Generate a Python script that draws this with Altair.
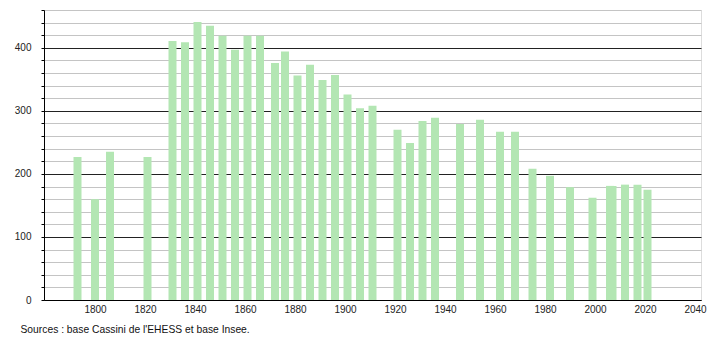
import altair as alt
import pandas as pd

years = [1793, 1800, 1806, 1821, 1831, 1836, 1841, 1846, 1851, 1856, 1861, 1866,
         1872, 1876, 1881, 1886, 1891, 1896, 1901, 1906, 1911, 1921, 1926, 1931,
         1936, 1946, 1954, 1962, 1968, 1975, 1982, 1990, 1999, 2006, 2007, 2012,
         2017, 2021]
population = [227, 160, 235, 227, 411, 409, 441, 435, 419, 397, 419, 419,
              376, 394, 356, 373, 349, 357, 326, 304, 308, 270, 249, 284,
              289, 279, 286, 267, 267, 208, 197, 179, 162, 181, 181, 183,
              183, 175]
x_ticks = [1800, 1820, 1840, 1860, 1880, 1900, 1920, 1940, 1960, 1980, 2000, 2020, 2040]
y_ticks = list(range(0, 461, 20))
source_text = "Sources : base Cassini de l'EHESS et base Insee."

df = pd.DataFrame({"year": years, "pop": population})

W, H = 657, 290
FONT = "Liberation Sans"

bars = alt.Chart(df).transform_calculate(
    year_start="datum.year - 1.6",
    year_end="datum.year + 1.6",
).mark_rect(color="#b3e6b3").encode(
    x=alt.X("year_start:Q", scale=alt.Scale(domain=[1779.6, 2042.4], nice=False, zero=False),
            axis=alt.Axis(values=x_ticks, format="d", title=None, grid=False, ticks=False,
                          labelFont=FONT, labelFontSize=10, labelColor="#222",
                          labelPadding=4, domainColor="#000", labelFlush=False)),
    x2="year_end:Q",
    y=alt.Y("pop:Q", scale=alt.Scale(domain=[0, 460], nice=False),
            axis=alt.Axis(values=y_ticks, title=None, grid=True,
                          gridColor={"condition": {"test": "datum.value % 100 === 0", "value": "#222"},
                                     "value": "#c4c4c4"},
                          labelExpr="datum.value % 100 === 0 ? datum.label : ''",
                          labelFont=FONT, labelFontSize=10, labelColor="#222",
                          labelPadding=10, tickSize=3, tickColor="#000",
                          domainColor="#000")),
    y2=alt.datum(0),
)

note = alt.Chart(pd.DataFrame({"t": [source_text]})).mark_text(
    align="left", baseline="alphabetic", font=FONT, fontSize=10.3, color="#111"
).encode(
    text="t:N",
    x=alt.value(-23.5),
    y=alt.value(H + 33),
)

chart = alt.layer(bars, note).properties(
    width=W, height=H,
    padding={"left": 44, "top": 10, "right": 9, "bottom": 40},
    autosize="none",
).configure_view(stroke=None).configure(background="white")

chart.save("out.html", embed_options={"renderer": "svg", "actions": False})
